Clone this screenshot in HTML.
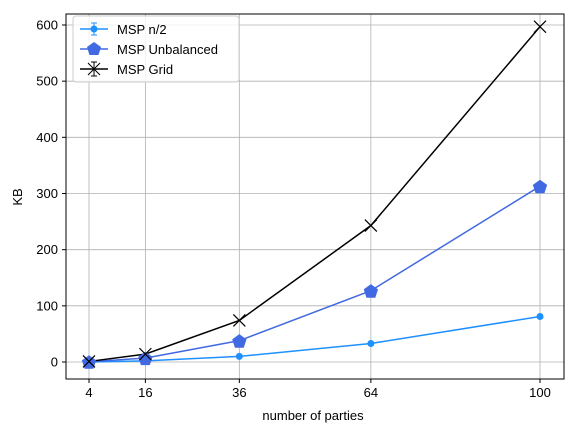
<!DOCTYPE html>
<html><head><meta charset="utf-8"><style>
html,body{margin:0;padding:0;background:#fff;}
svg{display:block;font-family:"Liberation Sans","DejaVu Sans",sans-serif;}
</style></head><body>
<svg id="chart" width="571" height="432" viewBox="0 0 571 432">
<g id="grid"></g>
<g id="series"></g>
<rect x="66" y="14" width="498" height="365" fill="none" stroke="#000" stroke-width="1"/>
<g id="ticks"></g>
<text x="313" y="420" font-size="13" text-anchor="middle">number of parties</text>
<text x="22" y="197" font-size="13" text-anchor="middle" transform="rotate(-90 22 197)">KB</text>
<g>
<rect x="73" y="16" width="166" height="66" rx="3" fill="#fff" fill-opacity="0.8" stroke="#ccc"/>
<g>
<line x1="80" y1="29" x2="108" y2="29" stroke="#1e90ff" stroke-width="1.5"/>
<line x1="94" y1="23" x2="94" y2="35" stroke="#1e90ff"/><line x1="91" y1="23" x2="97" y2="23" stroke="#1e90ff"/><line x1="91" y1="35" x2="97" y2="35" stroke="#1e90ff"/>
<circle cx="94" cy="29" r="3.5" fill="#1e90ff"/>
<text x="117" y="34" font-size="13">MSP n/2</text></g>
<g>
<line x1="80" y1="49" x2="108" y2="49" stroke="#4169e1" stroke-width="1.5"/>
<polygon points="94,42 101,47 98.5,55 89.5,55 87,47" fill="#4169e1"/>
<text x="117" y="54" font-size="13">MSP Unbalanced</text></g>
<g>
<line x1="80" y1="69" x2="108" y2="69" stroke="#000" stroke-width="1.5"/>
<path d="M88,63 L100,75 M88,75 L100,63 M94,62 V76 M91,62 H97 M91,76 H97" stroke="#000" fill="none"/>
<text x="117" y="74" font-size="13">MSP Grid</text></g>
</g>
</svg>
<script>
const categories=[4,16,36,64,100];
const n2Values=[0,2,10,33,81];
const unbalancedValues=[0.5,7,38,127,313];
const gridValues=[1,14,74,243,597];
const yTicks=[0,100,200,300,400,500,600];
const NS="http://www.w3.org/2000/svg";
const xs=v=>89+(v-4)*(451/96);
const ys=v=>362-v*(337/600);
function mk(tag,attrs,parent){const e=document.createElementNS(NS,tag);for(const k in attrs)e.setAttribute(k,attrs[k]);parent.appendChild(e);return e;}
const grid=document.getElementById('grid'),ticks=document.getElementById('ticks'),ser=document.getElementById('series');
categories.forEach(c=>{
 const g=mk('line',{x1:xs(c),x2:xs(c),y1:14,y2:379,stroke:'#b0b0b0','stroke-width':0.8},grid);
 
 
 mk('line',{x1:xs(c),x2:xs(c),y1:379,y2:383,stroke:'#000'},ticks);
 const t=mk('text',{x:xs(c),y:397,'font-size':13,'text-anchor':'middle'},ticks);t.textContent=c;
 
 
});
yTicks.forEach(v=>{
 const g=mk('line',{x1:66,x2:564,y1:ys(v),y2:ys(v),stroke:'#b0b0b0','stroke-width':0.8},grid);
 
 
 mk('line',{x1:62,x2:66,y1:ys(v),y2:ys(v),stroke:'#000'},ticks);
 const t=mk('text',{x:58,y:ys(v)+4.5,'font-size':13,'text-anchor':'end'},ticks);t.textContent=v;
 
 
});
function line(vals,color,name){
 const p=mk('polyline',{points:vals.map((v,i)=>xs(categories[i])+','+ys(v)).join(' '),fill:'none',stroke:color,'stroke-width':1.5},ser);
 
 
}
line(n2Values,'#1e90ff','msp-n2');
line(unbalancedValues,'#4169e1','msp-unbalanced');
line(gridValues,'#000','msp-grid');
n2Values.forEach((v,i)=>{const c=mk('circle',{cx:xs(categories[i]),cy:ys(v),r:3.5,fill:'#1e90ff'},ser);
 
 });
unbalancedValues.forEach((v,i)=>{const x=xs(categories[i]),y=ys(v),r=7.5;
 const pts=[0,1,2,3,4].map(k=>{const a=-Math.PI/2+k*2*Math.PI/5;return (x+r*Math.cos(a))+','+(y+r*Math.sin(a)+1);}).join(' ');
 const p=mk('polygon',{points:pts,fill:'#4169e1'},ser);
 
 });
gridValues.forEach((v,i)=>{const x=xs(categories[i]),y=ys(v);
 const p=mk('path',{d:`M${x-6},${y-6}L${x+6},${y+6}M${x-6},${y+6}L${x+6},${y-6}`,stroke:'#000','stroke-width':1.2,fill:'none'},ser);
 
 });
</script>
</body></html>
